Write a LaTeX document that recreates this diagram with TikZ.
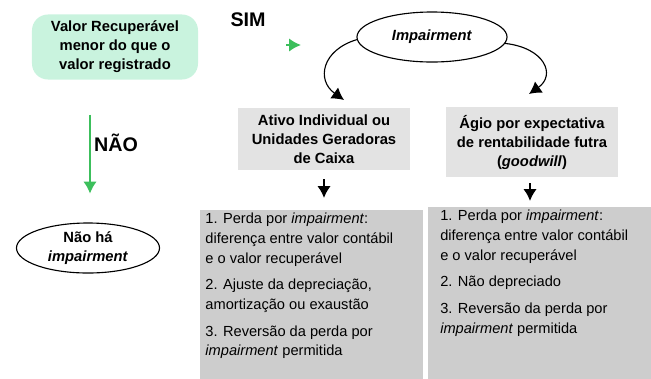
\documentclass[tikz,border=0pt]{standalone}
\usepackage{fontspec}
\setmainfont{Liberation Sans}
\usepackage{tikz}
\usetikzlibrary{shapes.geometric, arrows.meta}

\definecolor{mint}{HTML}{C9F3DE}
\definecolor{lightgray}{HTML}{E3E3E3}
\definecolor{midgray}{HTML}{CDCDCD}
\definecolor{arrowgreen}{HTML}{3CBF5C}

\begin{document}
\begin{tikzpicture}[>={Latex[length=0.3cm, width=0.34cm]}, x=0.025cm, y=-0.025cm,
    label/.style={font=\fontsize{10.5}{13.5}\selectfont\bfseries, align=center},
    bigword/.style={font=\fontsize{14}{16}\selectfont\bfseries},
    headbox/.style={label, fill=lightgray, minimum width=4.3cm, inner sep=0pt},
    listbox/.style={anchor=north west, fill=midgray, inner xsep=0.13cm, inner ysep=0.07cm,
                    font=\fontsize{10.4}{14}\selectfont},
    oval/.style={label, shape=ellipse, draw, line width=0.8pt, inner sep=0pt},
    greenarrow/.style={->, draw=arrowgreen, fill=arrowgreen, line width=1.6pt},
    blackarrow/.style={->, line width=1.4pt}]
  \useasboundingbox (0,0) rectangle (651,378);

  \node (n1) at (115,47) [label, fill=mint, rounded corners=0.4cm,
                          minimum width=4.15cm, minimum height=1.625cm]
        {Valor Recuperável\\menor do que o\\valor registrado} ;
  \node (sim) at (248,20) [bigword] {SIM} ;
  \node (nao) at (116,143) [bigword] {NÃO} ;
  \node (n2) at (88,248) [oval, minimum width=3.575cm, minimum height=1.25cm]
        {Não há\\\textit{impairment}} ;
  \node (n3) at (432,37) [oval, minimum width=3.75cm, minimum height=1.25cm]
        {\textit{Impairment}} ;
  \node (n4) at (324,139) [headbox, minimum height=1.55cm]
        {Ativo Individual ou\\Unidades Geradoras\\de Caixa} ;
  \node (n5) at (532,142) [headbox, minimum height=1.75cm]
        {Ágio por expectativa\\de rentabilidade futra\\(\textit{goodwill})} ;
  \node (n6) at (200,210) [listbox] {\parbox[t][4.2cm][t]{5.3cm}{\raggedright
        1. Perda por \textit{impairment}:\\diferença entre valor contábil\\e o valor recuperável\\[5pt]
        2. Ajuste da depreciação,\\amortização ou exaustão\\[5pt]
        3. Reversão da perda por\\\textit{impairment} permitida}} ;
  \node (n7) at (428,207) [listbox, inner xsep=0.3cm] {\parbox[t][4.2cm][t]{5.3cm}{\raggedright
        1. Perda por \textit{impairment}:\\diferença entre valor contábil\\e o valor recuperável\\[5pt]
        2. Não depreciado\\[5pt]
        3. Reversão da perda por\\\textit{impairment} permitida}} ;

  \coordinate (s1) at (286,45) ;
  \coordinate (s2) at (301,45) ;
  \coordinate (c1) at (344,100) ;
  \coordinate (c2) at (529,94) ;

  \draw [greenarrow] (s1) -- (s2);
  \draw [greenarrow, shorten <=0.875cm, shorten >=0.72cm] ([xshift=0.05cm]n2.north |- n1.south) -- ([xshift=0.05cm]n2.north);

  \draw [->, line width=0.8pt] (n3.182) .. controls (322,50) and (316,80) .. (c1);
  \draw [->, line width=0.8pt] (n3.-5) .. controls (545,48) and (556,75) .. (c2);

  \draw [blackarrow, shorten <=0.22cm, shorten >=0.3cm] (n4.south) -- (n4.south |- n6.north);
  \draw [blackarrow, shorten <=0.15cm, shorten >=0.15cm] ([xshift=-0.05cm]n5.south) -- ([xshift=-0.05cm]n5.south |- n7.north);
\end{tikzpicture}
\end{document}
